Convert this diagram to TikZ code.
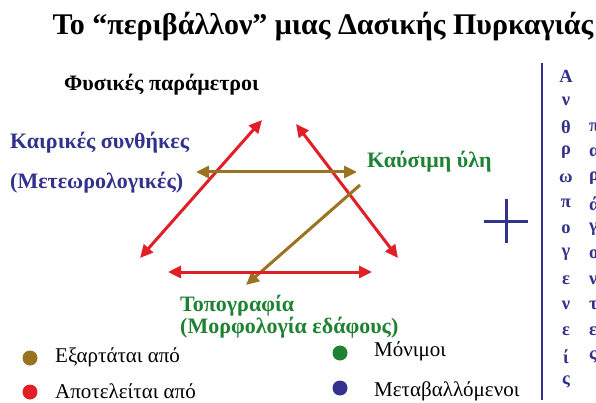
\documentclass[tikz,border=0pt]{standalone}
\usepackage{fontspec}
\setmainfont{Liberation Serif}
\usetikzlibrary{arrows.meta}
\definecolor{redA}{RGB}{226,30,38}
\definecolor{brownA}{RGB}{153,115,32}
\definecolor{navyA}{RGB}{50,50,140}
\definecolor{greenA}{RGB}{30,130,50}
\tikzset{
  tip/.tip={Triangle[length=13pt,width=12pt]},
  redarrow/.style={draw=redA, line width=3pt, tip-tip},
  brownboth/.style={draw=brownA, line width=3pt, tip-tip},
  brownone/.style={draw=brownA, line width=3pt, -tip},
  lbl/.style={inner sep=0pt, anchor=west, font=\bfseries\fontsize{22}{24}\selectfont},
  legtext/.style={inner sep=0pt, anchor=west, font=\fontsize{21}{24}\selectfont},
  dot/.style={circle, inner sep=0pt, minimum size=15pt},
  colletter/.style={inner sep=0pt, text=navyA, font=\bfseries\fontsize{18.5}{20}\selectfont},
}
\begin{document}
\begin{tikzpicture}[x=1pt,y=-1pt]
\useasboundingbox (0,0) rectangle (596,403);
\clip (0,0) rectangle (596,403);
\fill[white] (0,0) rectangle (596,403);

\node[inner sep=0pt, font=\bfseries\fontsize{30}{32}\selectfont] (title) at (323,27) {Το “περιβάλλον” μιας Δασικής Πυρκαγιάς};
\node[lbl, font=\bfseries\fontsize{22}{24}\selectfont] (phys) at (64,85) {Φυσικές παράμετροι};
\node[lbl, text=navyA] (kair) at (10,143) {Καιρικές συνθήκες};
\node[lbl, text=navyA] (meteo) at (10,183) {(Μετεωρολογικές)};
\node[lbl, text=greenA] (fuel) at (367,162) {Καύσιμη ύλη};
\node[lbl, text=greenA] (topo) at (180,306) {Τοπογραφία};
\node[lbl, text=greenA] (morf) at (180,328) {(Μορφολογία εδάφους)};

% arrows
\coordinate (lb) at (140,258);
\coordinate (lt) at (262,120);
\coordinate (rt) at (296,124);
\coordinate (rb) at (398,258);
\coordinate (hl) at (168,272);
\coordinate (hr) at (372,272);
\coordinate (bl) at (196,172);
\coordinate (br) at (357,172);
\coordinate (ds) at (360,185);
\coordinate (de) at (246,285);
\draw[redarrow] (lb) -- (lt);
\draw[redarrow] (rt) -- (rb);
\draw[brownboth] (bl) -- (br);
\draw[brownone] (ds) -- (de);
\draw[redarrow] (hl) -- (hr);

% plus
\coordinate (pc) at (506,221);
\draw[navyA, line width=3pt] ([xshift=-22pt]pc) -- ([xshift=22pt]pc);
\draw[navyA, line width=3pt] ([yshift=-22pt]pc) -- ([yshift=22pt]pc);

% vertical line
\coordinate (vt) at (542,63);
\coordinate (vb) at (542,400);
\draw[navyA, line width=2.5pt] (vt) -- (vb);

\foreach \ch [count=\i] in {Α,ν,θ,ρ,ω,π,ο,γ,ε,ν,ε,ί,ς}
  \node[colletter] (a\i) at (566,{76+(\i-1)*25.5}) {\ch};
\foreach \ch [count=\i] in {π,α,ρ,ά,γ,ο,ν,τ,ε,ς}
  \node[colletter, anchor=west] (b\i) at (589,{127+(\i-1)*25.5}) {\ch};

% legend
\node[dot, fill=brownA] (d1) at (30,358) {};
\node[legtext] (t1) at (55,357) {Εξαρτάται από};
\node[dot, fill=redA] (d2) at (30,392) {};
\node[legtext] (t2) at (55,391) {Αποτελείται από};
\node[dot, fill=greenA] (d3) at (340,353) {};
\node[legtext] (t3) at (374,351) {Μόνιμοι};
\node[dot, fill=navyA] (d4) at (340,388) {};
\node[legtext] (t4) at (374,391) {Μεταβαλλόμενοι};
\end{tikzpicture}
\end{document}
